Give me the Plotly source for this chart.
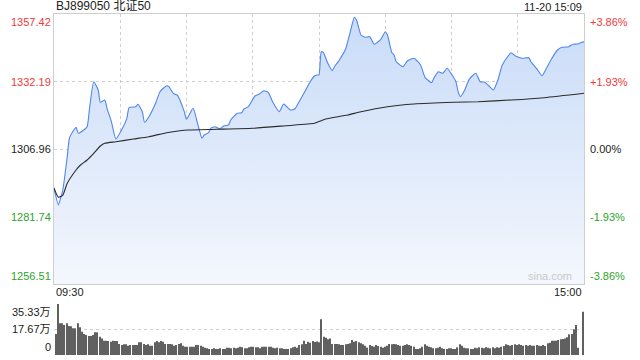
import plotly.graph_objects as go

# ---------------- data ----------------
title_text = "BJ899050 北证50"
time_text = "11-20 15:09"
tick_labels = ["09:30", "15:00"]
prev_close = 1306.96
price_ticks = [1357.42, 1332.19, 1306.96, 1281.74, 1256.51]
pct_ticks = ["+3.86%", "+1.93%", "0.00%", "-1.93%", "-3.86%"]
vol_ticks = [35.33, 17.67, 0]
vol_tick_text = ["35.33万", "17.67万", "0"]

# minute index (0 = 09:30, 120 = 11:30/13:00, 240 = 15:00) and price
price_idx = [0, 2, 3, 4, 6, 7, 9, 10, 11, 13,
             15, 16, 18, 20, 21, 23, 24, 26, 28, 31,
             33, 34, 37, 38, 40, 41, 43, 46, 48, 51,
             52, 54, 56, 59, 60, 63, 65, 67, 68, 70,
             71, 73, 75, 77, 79, 80, 83, 85, 86, 88,
             91, 93, 95, 97, 99, 102, 104, 107, 109, 111,
             114, 116, 118, 119, 120, 121, 122, 124, 126, 127,
             129, 132, 134, 136, 137, 139, 141, 143, 145, 148,
             150, 151, 153, 154, 155, 158, 160, 163, 166, 168,
             171, 172, 174, 176, 178, 180, 182, 183, 184, 186,
             188, 191, 193, 195, 197, 199, 201, 203, 206, 207,
             209, 212, 215, 216, 219, 221, 223, 225, 228, 230,
             233, 235, 237, 239, 240]
price_vals = [1292.28, 1286.04, 1288.65, 1291.64, 1304.09, 1311.08, 1314.07, 1315.08, 1312.83, 1313.80,
              1315.30, 1321.54, 1332.12, 1329.02, 1324.42, 1325.28, 1322.18, 1317.17, 1310.70, 1314.70,
              1318.44, 1322.40, 1322.77, 1323.67, 1320.91, 1316.94, 1319.04, 1324.04, 1328.38, 1330.62,
              1330.25, 1327.78, 1326.89, 1320.91, 1318.07, 1322.18, 1316.57, 1310.96, 1312.20, 1313.06,
              1314.70, 1315.30, 1314.44, 1315.67, 1315.94, 1317.80, 1320.31, 1320.53, 1321.91, 1322.77,
              1326.77, 1327.52, 1328.75, 1328.16, 1324.64, 1320.91, 1323.78, 1321.54, 1321.91, 1324.64,
              1329.02, 1332.12, 1334.25, 1334.62, 1334.70, 1343.33, 1342.96, 1338.99, 1336.23, 1337.72,
              1339.97, 1344.23, 1350.21, 1356.19, 1355.18, 1349.57, 1348.71, 1348.94, 1346.10, 1347.96,
              1350.80, 1349.57, 1342.96, 1342.10, 1339.59, 1337.72, 1339.85, 1340.86, 1338.36, 1333.76,
              1331.74, 1333.39, 1335.86, 1335.26, 1337.13, 1335.00, 1332.12, 1328.38, 1326.51, 1329.02,
              1333.01, 1335.26, 1332.12, 1331.90, 1330.51, 1329.02, 1332.75, 1338.36, 1342.10, 1342.96,
              1341.72, 1340.86, 1341.09, 1339.59, 1336.49, 1334.36, 1337.13, 1340.23, 1343.97, 1344.97,
              1345.20, 1346.10, 1346.21, 1346.84, 1347.00]

avg_idx = [0, 2, 4, 6, 10, 12, 15, 18, 21, 23,
           28, 36, 43, 51, 57, 61, 74, 90, 105, 118,
           121, 123, 133, 139, 151, 163, 181, 192, 207, 222,
           240]
avg_vals = [1292.39, 1288.91, 1289.77, 1294.15, 1299.12, 1300.99, 1302.85, 1305.36, 1308.09, 1309.10,
            1309.69, 1310.70, 1311.56, 1313.06, 1313.80, 1314.07, 1314.33, 1314.70, 1315.67, 1316.57,
            1317.54, 1318.18, 1319.67, 1320.91, 1322.77, 1323.78, 1324.42, 1324.64, 1325.28, 1326.14,
            1327.78]

# volume per minute (万)
vol_am = [14.5, 35.33, 22.0, 22.0, 20.8, 22.0, 20.1, 20.0, 18.5, 18.5,
          22.0, 19.2, 16.1, 14.5, 13.9, 13.2, 13.2, 13.9, 15.7, 15.7,
          12.7, 11.5, 9.9, 9.9, 9.7, 9.2, 9.9, 9.7, 9.7, 7.6,
          6.9, 7.4, 7.4, 6.4, 6.9, 6.9, 6.9, 6.9, 8.8, 8.8,
          7.6, 6.9, 7.4, 6.4, 6.4, 8.8, 9.7, 8.8, 9.7, 9.2,
          7.6, 7.6, 7.6, 7.4, 6.4, 6.9, 7.6, 8.1, 6.4, 5.7,
          5.7, 5.7, 5.7, 5.7, 6.9, 6.9, 6.4, 5.7, 5.1, 4.6,
          4.2, 4.2, 4.6, 4.2, 4.2, 4.6, 4.2, 4.2, 5.1, 5.1,
          4.6, 5.1, 4.6, 5.1, 5.7, 5.3, 4.6, 4.6, 5.3, 5.7,
          5.7, 5.3, 5.3, 4.6, 5.7, 5.7, 5.7, 5.7, 5.7, 5.1,
          4.6, 5.1, 4.6, 4.6, 4.2, 4.2, 4.2, 4.6, 5.3, 5.7,
          5.1, 6.9, 7.4, 9.9, 7.6, 9.2, 8.5, 9.7, 9.0, 9.4,
          8.8]
vol_pm = [24.7, 12.7, 12.0, 10.9, 11.5, 7.6, 7.6, 7.6, 7.4, 6.9,
          6.9, 7.4, 7.6, 8.1, 10.4, 9.2, 9.7, 8.8, 8.1, 7.4,
          6.4, 5.1, 6.9, 6.2, 5.7, 6.9, 6.2, 5.7, 5.1, 5.7,
          6.4, 7.6, 7.4, 7.6, 7.4, 6.9, 6.4, 6.4, 6.9, 7.4,
          6.9, 6.4, 5.7, 4.2, 4.2, 4.6, 5.7, 7.4, 6.4, 5.7,
          5.3, 4.6, 4.6, 5.1, 5.7, 4.6, 4.2, 4.2, 4.6, 4.6,
          4.2, 4.2, 5.3, 7.4, 6.4, 5.1, 4.6, 4.6, 4.2, 4.2,
          5.1, 4.6, 5.3, 5.1, 4.6, 5.3, 5.1, 4.6, 5.3, 4.6,
          5.3, 5.0, 5.7, 6.2, 7.4, 6.9, 6.4, 6.9, 7.4, 6.9,
          7.4, 6.9, 6.4, 6.9, 6.4, 6.9, 6.4, 6.4, 6.9, 6.4,
          6.2, 6.9, 6.2, 8.1, 8.5, 9.9, 9.9, 9.9, 10.4, 10.9,
          11.1, 11.5, 12.3, 14.3, 14.5, 17.8, 20.8, 5.1, 0.0, 30.0]
volume = vol_am + vol_pm
vol_idx = list(range(len(volume)))

# ---------------- styles ----------------
FONT = "Liberation Sans, Arial, Noto Sans CJK SC, sans-serif"
RED = "#f03a3a"
GREEN = "#2aa52a"
BLACK = "#222222"
BLUE = "#4d86ec"
GRID = "#cfcfcf"

p_lo, p_hi = price_ticks[-1], price_ticks[0]

fig = go.Figure()

fig.add_trace(go.Scatter(
    x=price_idx, y=price_vals, mode="lines",
    line=dict(color=BLUE, width=1.1, shape="spline", smoothing=0.5),
    fill="tozeroy",
    fillgradient=dict(type="vertical", start=p_lo, stop=p_hi,
                      colorscale=[[0, "#f4f7fd"], [1, "#c8dbf8"]]),
    hoverinfo="skip", xaxis="x", yaxis="y"))

fig.add_trace(go.Scatter(
    x=avg_idx, y=avg_vals, mode="lines",
    line=dict(color="#2b2b2b", width=1.1, shape="spline", smoothing=0.6),
    hoverinfo="skip", xaxis="x", yaxis="y"))

fig.add_trace(go.Bar(
    x=vol_idx, y=volume, width=0.5,
    marker=dict(color="#606060", line=dict(width=0)),
    hoverinfo="skip", xaxis="x2", yaxis="y2"))

main_dom = [0.2082, 1.0]
vol_dom = [0.0, 0.1496]

fig.update_layout(
    width=640, height=360,
    margin=dict(l=54, r=56, t=14, b=5),
    paper_bgcolor="white", plot_bgcolor="white",
    showlegend=False,
    font=dict(family=FONT, size=11, color=BLACK),
    xaxis=dict(domain=[0, 1], range=[0, 240], tickvals=[30, 60, 90, 120, 150, 180, 210],
               showticklabels=False, ticks="", showgrid=True, gridcolor=GRID, griddash="dot",
               gridwidth=1, zeroline=False, showline=True, linecolor=GRID, mirror=True,
               anchor="y", fixedrange=True),
    yaxis=dict(domain=main_dom, range=[p_lo, p_hi], tickvals=price_ticks[1:4],
               showticklabels=False, ticks="", showgrid=True, gridcolor=GRID, griddash="dot",
               gridwidth=1, zeroline=False, showline=True, linecolor=GRID, mirror=True,
               anchor="x", fixedrange=True),
    xaxis2=dict(domain=[0, 1], range=[-0.8, 240.6], showticklabels=False, ticks="",
                showgrid=False, zeroline=False, showline=False, anchor="y2", fixedrange=True),
    yaxis2=dict(domain=vol_dom, range=[0, vol_ticks[0]], tickvals=vol_ticks[:2],
                showticklabels=False, ticks="", showgrid=True, gridcolor=GRID, griddash="dot",
                gridwidth=1, zeroline=False, showline=False, anchor="x2", fixedrange=True),
)

ann = []
# left price labels and right percent labels
for i, (pv, pt) in enumerate(zip(price_ticks, pct_ticks)):
    col = RED if pv > prev_close else (GREEN if pv < prev_close else BLACK)
    if i == 0:
        ya = "top"
    elif i == len(price_ticks) - 1:
        ya = "bottom"
    else:
        ya = "middle"
    ann.append(dict(xref="paper", yref="y", x=0, y=pv, text=f"{pv:.2f}", xanchor="right",
                    yanchor=ya, xshift=-1, showarrow=False, font=dict(color=col, size=11)))
    ann.append(dict(xref="paper", yref="y", x=1, y=pv, text=pt, xanchor="left",
                    yanchor=ya, xshift=4, showarrow=False, font=dict(color=col, size=11)))

# volume labels
for i, (vv, vt) in enumerate(zip(vol_ticks, vol_tick_text)):
    ya = "top" if i == 0 else ("bottom" if i == len(vol_ticks) - 1 else "middle")
    ann.append(dict(xref="paper", yref="y2", x=0, y=vv, text=vt, xanchor="right", yanchor=ya,
                    xshift=-1, showarrow=False, font=dict(color=BLACK, size=11)))

# header
ann.append(dict(xref="paper", yref="paper", x=0, y=1, text=title_text, xanchor="left",
                yanchor="bottom", showarrow=False, yshift=-1, font=dict(color=BLACK, size=12)))
ann.append(dict(xref="paper", yref="paper", x=1, y=1, text=time_text, xanchor="right",
                yanchor="bottom", showarrow=False, yshift=-1, font=dict(color=BLACK, size=11)))

# time labels
ann.append(dict(xref="paper", yref="paper", x=0, y=main_dom[0], text=tick_labels[0], xanchor="left",
                yanchor="top", showarrow=False, font=dict(color=BLACK, size=11)))
ann.append(dict(xref="paper", yref="paper", x=1, y=main_dom[0], text=tick_labels[1], xanchor="right",
                yanchor="top", showarrow=False, font=dict(color=BLACK, size=11)))

# watermark
ann.append(dict(xref="paper", yref="y", x=1, y=p_lo, text="sina.com", xanchor="right",
                yanchor="bottom", xshift=-10, showarrow=False, font=dict(color="#c9c9c9", size=11)))

fig.update_layout(annotations=ann)

fig.write_html("out.html", config={"displayModeBar": False},
               post_script="document.body.style.margin='0';document.body.style.overflow='hidden';")
